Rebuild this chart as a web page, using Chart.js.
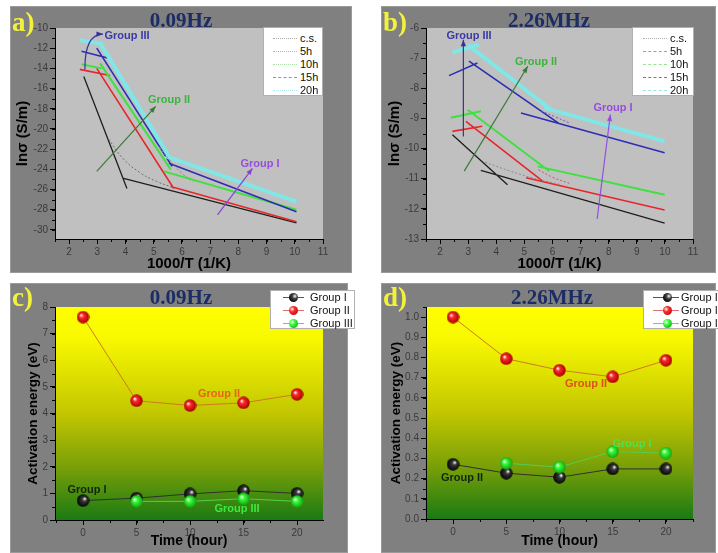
<!DOCTYPE html>
<html>
<head>
<meta charset="utf-8">
<script src="https://cdn.jsdelivr.net/npm/chart.js@4.4.1/dist/chart.umd.min.js"></script>
<style>
body { margin: 0; background: #fff; width: 718px; height: 553px; position: relative; overflow: hidden; font-family: Arial, "Liberation Sans", sans-serif; }
.panel { position: absolute; background: #808080; box-sizing: border-box; border: 1px solid #9a9a9a; }
.panel canvas { position: absolute; left: -1px; top: -1px; }
.lbl { position: absolute; font: bold 27px "Liberation Serif", serif; color: #f2f23c; line-height: 1; transform: translateY(-50%); }
.ttl { position: absolute; font: bold 21px "Liberation Serif", serif; color: #1c2c64; line-height: 1; transform: translate(-50%, -50%); white-space: nowrap; }
.ann { position: absolute; font: bold 11px Arial, sans-serif; line-height: 1; transform: translate(-50%, -50%); white-space: nowrap; }
.leg { position: absolute; background: #fff; border: 1px solid #b0b0b0; font: 11px Arial, sans-serif; color: #111; box-sizing: border-box; }
.row { position: absolute; left: 0; right: 0; height: 13px; }
.row .s { position: absolute; top: 6px; height: 0; }
.row .t { position: absolute; top: 0; line-height: 13px; white-space: nowrap; }
.ball { position: absolute; top: 2px; width: 9px; height: 9px; border-radius: 50%; }
</style>
</head>
<body>

<div class="panel" style="left:10px;top:6px;width:342px;height:267px"><canvas id="ca" width="342" height="267"></canvas></div>
<div class="panel" style="left:381px;top:6px;width:335px;height:267px"><canvas id="cb" width="335" height="267"></canvas></div>
<div class="panel" style="left:10px;top:283px;width:338px;height:270px"><canvas id="cc" width="338" height="270"></canvas></div>
<div class="panel" style="left:381px;top:283px;width:335px;height:270px"><canvas id="cd" width="335" height="270"></canvas></div>

<div class="lbl" style="left:12px;top:22px">a)</div>
<div class="lbl" style="left:383px;top:22px">b)</div>
<div class="lbl" style="left:12px;top:297px">c)</div>
<div class="lbl" style="left:383px;top:297px">d)</div>

<div class="ttl" style="left:181px;top:20px">0.09Hz</div>
<div class="ttl" style="left:549px;top:20px">2.26MHz</div>
<div class="ttl" style="left:181px;top:297px">0.09Hz</div>
<div class="ttl" style="left:552px;top:297px">2.26MHz</div>

<div class="ann" style="left:127px;top:35px;color:#3a3aa6">Group III</div>
<div class="ann" style="left:169px;top:99px;color:#3cb43c">Group II</div>
<div class="ann" style="left:260px;top:163px;color:#9a4ae0">Group I</div>

<div class="ann" style="left:469px;top:35px;color:#3a3aa6">Group III</div>
<div class="ann" style="left:536px;top:61px;color:#3cb43c">Group II</div>
<div class="ann" style="left:613px;top:107px;color:#9a4ae0">Group I</div>

<div class="ann" style="left:219px;top:393px;color:#e8641a">Group II</div>
<div class="ann" style="left:87px;top:489px;color:#14240e">Group I</div>
<div class="ann" style="left:237px;top:508px;color:#3ee83e">Group III</div>

<div class="ann" style="left:586px;top:383px;color:#e0501e">Group II</div>
<div class="ann" style="left:462px;top:477px;color:#14240e">Group II</div>
<div class="ann" style="left:632px;top:443px;color:#4ee04e">Group I</div>

<div class="leg" style="left:263px;top:27px;width:60px;height:69px">
  <div class="row" style="top:4px"><div class="s" style="left:9px;width:24px;border-top:1px dotted #a8a8a8"></div><div class="t" style="left:36px">c.s.</div></div>
  <div class="row" style="top:17px"><div class="s" style="left:9px;width:24px;border-top:1px dotted #c8a8b8"></div><div class="t" style="left:36px">5h</div></div>
  <div class="row" style="top:30px"><div class="s" style="left:9px;width:24px;border-top:1px dotted #a8e0a8"></div><div class="t" style="left:36px">10h</div></div>
  <div class="row" style="top:43px"><div class="s" style="left:9px;width:24px;border-top:1px dashed #9a8ab8"></div><div class="t" style="left:36px">15h</div></div>
  <div class="row" style="top:56px"><div class="s" style="left:9px;width:24px;border-top:1px dotted #b0e8e8"></div><div class="t" style="left:36px">20h</div></div>
</div>

<div class="leg" style="left:632px;top:27px;width:62px;height:69px">
  <div class="row" style="top:4px"><div class="s" style="left:10px;width:24px;border-top:1px dotted #b0b0b0"></div><div class="t" style="left:37px">c.s.</div></div>
  <div class="row" style="top:17px"><div class="s" style="left:10px;width:24px;border-top:1px dashed #e080a0"></div><div class="t" style="left:37px">5h</div></div>
  <div class="row" style="top:30px"><div class="s" style="left:10px;width:24px;border-top:1px dashed #90e890"></div><div class="t" style="left:37px">10h</div></div>
  <div class="row" style="top:43px"><div class="s" style="left:10px;width:24px;border-top:1px dashed #7070c8"></div><div class="t" style="left:37px">15h</div></div>
  <div class="row" style="top:56px"><div class="s" style="left:10px;width:24px;border-top:1px dashed #98e8e8"></div><div class="t" style="left:37px">20h</div></div>
</div>

<div class="leg" style="left:270px;top:290px;width:85px;height:39px">
  <div class="row" style="top:0px"><div class="s" style="left:12px;width:21px;border-top:1px solid #555"></div><div class="ball" style="left:18px;background:radial-gradient(circle at 65% 35%,#fff 0,#444 30%,#000 80%)"></div><div class="t" style="left:39px">Group I</div></div>
  <div class="row" style="top:13px"><div class="s" style="left:12px;width:21px;border-top:1px solid #e07070"></div><div class="ball" style="left:18px;background:radial-gradient(circle at 35% 35%,#fff 0,#ff3030 30%,#b00000 90%)"></div><div class="t" style="left:39px">Group II</div></div>
  <div class="row" style="top:26px"><div class="s" style="left:12px;width:21px;border-top:1px solid #70d070"></div><div class="ball" style="left:18px;background:radial-gradient(circle at 35% 35%,#fff 0,#40ff40 30%,#10a010 90%)"></div><div class="t" style="left:39px">Group III</div></div>
</div>

<div class="leg" style="left:643px;top:290px;width:90px;height:39px">
  <div class="row" style="top:0px"><div class="s" style="left:9px;width:26px;border-top:1px solid #555"></div><div class="ball" style="left:19px;background:radial-gradient(circle at 65% 35%,#fff 0,#444 30%,#000 80%)"></div><div class="t" style="left:37px">Group I</div></div>
  <div class="row" style="top:13px"><div class="s" style="left:9px;width:26px;border-top:1px solid #e07070"></div><div class="ball" style="left:19px;background:radial-gradient(circle at 35% 35%,#fff 0,#ff3030 30%,#b00000 90%)"></div><div class="t" style="left:37px">Group II</div></div>
  <div class="row" style="top:26px"><div class="s" style="left:9px;width:26px;border-top:1px solid #70d070"></div><div class="ball" style="left:19px;background:radial-gradient(circle at 35% 35%,#fff 0,#40ff40 30%,#10a010 90%)"></div><div class="t" style="left:37px">Group III</div></div>
</div>

<script>
// (a) 0.09Hz : linear fits, [1000/T, ln sigma], null = break between segments
const aCsFit  = [[2.52, -14.8], [4.05, -25.9], null, [3.93, -24.9], [10.06, -29.3]];
const a5hFit  = [[2.38, -14.1], [3.45, -14.7], null, [2.98, -14.0], [5.71, -25.9], null, [5.6, -25.7], [10.06, -29.2]];
const a10hFit = [[2.44, -13.6], [3.15, -14.0], null, [3.1, -13.5], [5.6, -24.0], null, [5.36, -24.2], [10.06, -28.0]];
const a15hFit = [[2.44, -12.3], [3.4, -13.0], null, [2.98, -12.0], [5.65, -23.7], null, [5.54, -23.4], [10.06, -28.2]];
const a20hFit = [[2.38, -11.2], [3.2, -11.6], null, [3.1, -11.5], [5.54, -22.7], null, [5.42, -22.7], [10.06, -27.2]];
const aCsData = [[3.4, -21.0], [3.9, -22.9], [4.5, -24.3], [5.1, -25.2], [5.7, -25.8]];
const a5hData = [[5.2, -21.8], [5.6, -23.2], [6.0, -24.4], [6.4, -25.2]];

// (b) 2.26MHz
const bCsFit  = [[2.44, -9.54], [4.4, -11.2], null, [3.45, -10.72], [9.99, -12.47]];
const b5hFit  = [[2.44, -9.43], [3.5, -9.26], null, [2.92, -9.1], [5.65, -11.08], null, [5.06, -10.97], [9.99, -12.04]];
const b10hFit = [[2.38, -8.98], [3.45, -8.76], null, [2.98, -8.71], [5.89, -10.75], null, [5.47, -10.59], [9.99, -11.53]];
const b15hFit = [[2.32, -7.58], [3.33, -7.16], null, [3.03, -7.1], [6.24, -9.17], null, [4.88, -8.82], [9.99, -10.14]];
const b20hFit = [[2.44, -6.81], [3.39, -6.55], null, [2.98, -6.55], [5.95, -8.71], null, [5.71, -8.65], [9.99, -9.76]];
const bCsData = [[3.6, -10.45], [4.5, -10.75], [5.4, -11.0], [6.3, -11.2]];
const b5hData = [[5.5, -10.7], [6.0, -10.95], [6.6, -11.15]];
const b15hData = [[5.6, -8.75], [6.1, -8.95], [6.6, -9.15]];

// (c), (d) activation energy vs time
const hours = [0, 5, 10, 15, 20];
const cGroup1 = [0.73, 0.82, 0.98, 1.1, 1.0];
const cGroup2 = [7.62, 4.48, 4.3, 4.4, 4.72];
const cGroup3 = [null, 0.7, 0.7, 0.8, 0.7];
const dGroup1 = [0.271, 0.227, 0.207, 0.248, 0.248];
const dGroup2 = [1.0, 0.794, 0.737, 0.704, 0.786];
const dGroup3 = [null, 0.276, 0.257, 0.334, 0.326];

function pts(arr) {
  return arr.map((p, i) => p ? {x: p[0], y: p[1]} : {x: arr[i - 1][0], y: null});
}
function fit(arr, color, w) {
  return {data: pts(arr), borderColor: color, borderWidth: w, pointRadius: 0, tension: 0, spanGaps: false};
}
function dotted(arr, color) {
  return {data: pts(arr), borderColor: color, borderWidth: 1, borderDash: [2, 2], pointRadius: 0, tension: 0.4};
}
function sphere(base, dark, hx) {
  var c = document.createElement('canvas');
  c.width = c.height = 13;
  var g = c.getContext('2d');
  var grad = g.createRadialGradient(hx, 4.5, 0.3, 6.5, 6.5, 6.5);
  grad.addColorStop(0, '#ffffff');
  grad.addColorStop(0.3, base);
  grad.addColorStop(1, dark);
  g.fillStyle = grad;
  g.beginPath(); g.arc(6.5, 6.5, 6.2, 0, Math.PI * 2); g.fill();
  return c;
}
function series(vals, color, ball, order) {
  return {
    data: hours.map((h, i) => ({x: h, y: vals[i]})),
    borderColor: color, borderWidth: 1, tension: 0, spanGaps: true,
    pointStyle: ball, pointRadius: 6, order: order
  };
}

function bgPlugin(fill) {
  return {
    id: 'bg',
    beforeDraw(chart) {
      var a = chart.chartArea, ctx = chart.ctx;
      ctx.save();
      if (fill === 'grad') {
        var g = ctx.createLinearGradient(0, a.top, 0, a.bottom);
        g.addColorStop(0, '#ffff00');
        g.addColorStop(0.15, '#f8f800');
        g.addColorStop(0.5, '#c2c600');
        g.addColorStop(0.75, '#7aa008');
        g.addColorStop(1, '#1a7a14');
        ctx.fillStyle = g;
      } else {
        ctx.fillStyle = fill;
      }
      ctx.fillRect(a.left, a.top, a.right - a.left, a.bottom - a.top);
      ctx.restore();
    }
  };
}

function arrowPlugin(arrows) {
  return {
    id: 'arrows',
    afterDatasetsDraw(chart) {
      var ctx = chart.ctx, x = chart.scales.x, y = chart.scales.y;
      arrows.forEach(function (a) {
        var p = a.pts.map(q => [x.getPixelForValue(q[0]), y.getPixelForValue(q[1])]);
        ctx.save();
        ctx.strokeStyle = a.color; ctx.fillStyle = a.color; ctx.lineWidth = 1.2;
        ctx.beginPath();
        ctx.moveTo(p[0][0], p[0][1]);
        if (p.length === 3) ctx.quadraticCurveTo(p[1][0], p[1][1], p[2][0], p[2][1]);
        else ctx.lineTo(p[1][0], p[1][1]);
        ctx.stroke();
        var e = p[p.length - 1], s = p[p.length - 2];
        var ang = Math.atan2(e[1] - s[1], e[0] - s[0]);
        ctx.beginPath();
        ctx.moveTo(e[0], e[1]);
        ctx.lineTo(e[0] - 7 * Math.cos(ang - 0.38), e[1] - 7 * Math.sin(ang - 0.38));
        ctx.lineTo(e[0] - 7 * Math.cos(ang + 0.38), e[1] - 7 * Math.sin(ang + 0.38));
        ctx.closePath();
        ctx.fill();
        ctx.restore();
      });
    }
  };
}

function minorPlugin(mx, my) {
  return {
    id: 'minor',
    afterDraw(chart) {
      var ctx = chart.ctx, a = chart.chartArea, x = chart.scales.x, y = chart.scales.y;
      ctx.save();
      ctx.strokeStyle = '#000'; ctx.lineWidth = 1;
      ctx.beginPath();
      for (var v = Math.ceil(x.min / mx) * mx; v <= x.max; v += mx) {
        var px = Math.round(x.getPixelForValue(v)) + 0.5;
        ctx.moveTo(px, a.bottom); ctx.lineTo(px, a.bottom + 3);
      }
      for (var w = Math.ceil(y.min / my) * my; w <= y.max + 1e-9; w += my) {
        var py = Math.round(y.getPixelForValue(w)) + 0.5;
        ctx.moveTo(a.left, py); ctx.lineTo(a.left - 3, py);
      }
      ctx.stroke();
      ctx.restore();
    }
  };
}

function axis(a, dir) {
  var ticks = {stepSize: a.step, includeBounds: false, color: '#3a3a3a', font: {size: 10, family: 'Arial'}, padding: 2, maxRotation: 0, autoSkip: false};
  if (a.fmt) ticks.callback = a.fmt;
  return {
    type: 'linear', min: a.min, max: a.max,
    ticks: ticks,
    grid: {drawOnChartArea: false, drawTicks: true, tickLength: 5, color: '#000'},
    border: {display: true, color: '#000', width: 1},
    title: {display: true, text: a.title, color: '#000', font: {size: a.tsize, weight: 'bold', family: 'Arial'}, padding: {top: a.tpad, bottom: a.tpad}},
    afterFit: function (s) { if (dir === 'x') s.height = a.size; else s.width = a.size; }
  };
}

function makeChart(id, cfg) {
  return new Chart(document.getElementById(id), {
    type: 'line',
    data: {datasets: cfg.datasets},
    options: {
      responsive: false, animation: false, devicePixelRatio: 1,
      layout: {padding: cfg.pad},
      plugins: {legend: {display: false}, tooltip: {enabled: false}},
      scales: {x: axis(cfg.x, 'x'), y: axis(cfg.y, 'y')}
    },
    plugins: [bgPlugin(cfg.bg), arrowPlugin(cfg.arrows || []), minorPlugin(cfg.x.minor, cfg.y.minor)]
  });
}

makeChart('ca', {
  pad: {top: 22, right: 29, left: 0, bottom: 0},
  bg: '#c0c0c0',
  x: {min: 1.5, max: 11, step: 1, minor: 0.5, title: '1000/T (1/K)', tsize: 15, tpad: 0, size: 34},
  y: {min: -30.9, max: -10, step: 2, minor: 1, title: 'lnσ (S/m)', tsize: 15, tpad: 4, size: 45},
  datasets: [
    dotted(aCsData, '#6e6e6e'),
    dotted(a5hData, '#8a8a8a'),
    fit(a20hFit, '#80e6e6', 4),
    fit(a15hFit, '#2d2db4', 1.6),
    fit(a10hFit, '#40e040', 2),
    fit(a5hFit, '#e8262a', 1.6),
    fit(aCsFit, '#1e1e1e', 1.3)
  ],
  arrows: [
    {pts: [[2.56, -14.1], [2.55, -10.6], [3.2, -10.6]], color: '#33339a'},
    {pts: [[2.98, -24.2], [5.07, -17.76]], color: '#3a7a3a'},
    {pts: [[7.26, -28.5], [8.5, -23.9]], color: '#8a40d8'}
  ]
});

makeChart('cb', {
  pad: {top: 22, right: 23, left: 0, bottom: 0},
  bg: '#c0c0c0',
  x: {min: 1.5, max: 11, step: 1, minor: 0.5, title: '1000/T (1/K)', tsize: 15, tpad: 0, size: 34},
  y: {min: -13, max: -6, step: 1, minor: 0.5, title: 'lnσ (S/m)', tsize: 15, tpad: 5, size: 45},
  datasets: [
    dotted(bCsData, '#8a8a8a'),
    dotted(b5hData, '#d05070'),
    dotted(b15hData, '#6060c0'),
    fit(b20hFit, '#80e6e6', 4),
    fit(b15hFit, '#2d2db4', 1.6),
    fit(b10hFit, '#40e040', 2),
    fit(b5hFit, '#e8262a', 1.6),
    fit(bCsFit, '#1e1e1e', 1.3)
  ],
  arrows: [
    {pts: [[2.83, -9.6], [2.83, -6.39]], color: '#33339a'},
    {pts: [[2.86, -10.75], [5.12, -7.27]], color: '#3a7a3a'},
    {pts: [[7.59, -12.33], [8.06, -8.87]], color: '#9050e0'}
  ]
});

var blackBall = sphere('#3a3a3a', '#000000', 8.5);
var redBall = sphere('#ff2a2a', '#a00000', 4.5);
var greenBall = sphere('#3cff3c', '#10a010', 4.5);

makeChart('cc', {
  pad: {top: 24, right: 25, left: 0, bottom: 0},
  bg: 'grad',
  x: {min: -2.62, max: 22.43, step: 5, minor: 2.5, title: 'Time (hour)', tsize: 14, tpad: 3, size: 33},
  y: {min: 0, max: 8, step: 1, minor: 0.5, title: 'Activation energy (eV)', tsize: 13.5, tpad: 15, size: 45},
  datasets: [
    series(cGroup3, '#50d050', greenBall, 0),
    series(cGroup1, '#303030', blackBall, 1),
    series(cGroup2, '#d07a20', redBall, 2)
  ]
});

makeChart('cd', {
  pad: {top: 24, right: 23, left: 0, bottom: 0},
  bg: 'grad',
  x: {min: -2.54, max: 22.54, step: 5, minor: 2.5, title: 'Time (hour)', tsize: 14, tpad: 3, size: 34},
  y: {min: 0, max: 1.05, step: 0.1, minor: 0.05, title: 'Activation energy (eV)', tsize: 13.5, tpad: 7, size: 45, fmt: v => v.toFixed(1)},
  datasets: [
    series(dGroup3, '#50d050', greenBall, 0),
    series(dGroup1, '#303030', blackBall, 1),
    series(dGroup2, '#d07a20', redBall, 2)
  ]
});
</script>
</body>
</html>
